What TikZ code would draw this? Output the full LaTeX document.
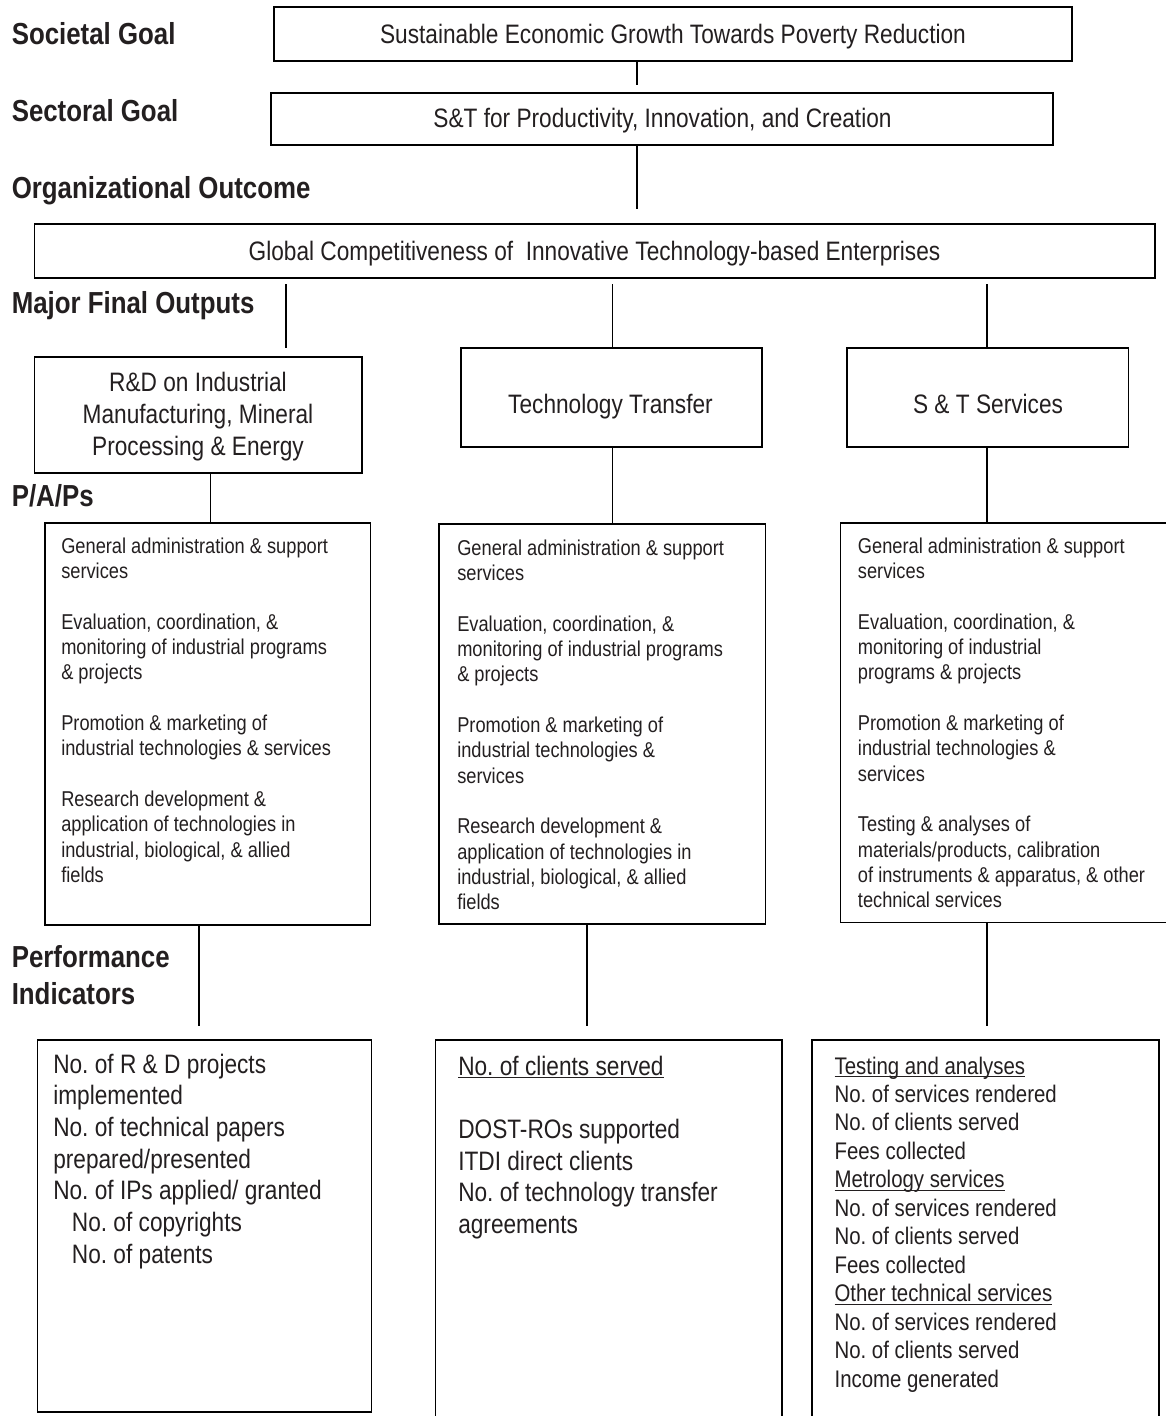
\documentclass[tikz,border=0pt]{standalone}
\usepackage{fontspec}
\setmainfont[FakeStretch=0.85]{Liberation Sans}
\usetikzlibrary{fit}
\definecolor{ink}{RGB}{35,31,32}
\frenchspacing
\newcommand{\myul}[1]{\setbox0\hbox{#1}\rlap{\rule[-2.6pt]{\wd0}{0.8pt}}\box0}
\tikzset{
  box/.style={draw=black, line width=1.1pt, inner sep=0pt, outer sep=0pt, rectangle},
  conn/.style={draw=black, line width=1.1pt},
  lab/.style={anchor=base west, inner sep=0pt, text=ink, font=\bfseries\fontsize{22.8}{27.8}\selectfont},
  body/.style={anchor=base, inner sep=0pt, text=ink, font=\fontsize{20}{23.8}\selectfont},
  bodyl/.style={anchor=base west, inner sep=0pt, text=ink, font=\fontsize{20}{23.8}\selectfont},
  pap/.style={anchor=base west, inner sep=0pt, text=ink, font=\fontsize{16.1}{19}\selectfont},
  pir/.style={anchor=base west, inner sep=0pt, text=ink, font=\fontsize{18}{21.35}\selectfont},
}
\begin{document}
\frenchspacing
\begin{tikzpicture}[x=0.75pt, y=-0.75pt]
\useasboundingbox[fill=white] (0,0) rectangle (1165,1416);

% ---- level labels ----
\node[lab] (lsoc) at (11.5,45) {Societal Goal};
\node[lab] (lsec) at (11.5,122) {Sectoral Goal};
\node[lab] (lorg) at (11.5,198) {Organizational Outcome};
\node[lab] (lmfo) at (11.5,313) {Major Final Outputs};
\node[lab] (lpap) at (11.5,506) {P/A/Ps};
\node[lab] (lpi) at (11.5,967) {\begin{tabular}[t]{@{}l@{}}Performance\\Indicators\end{tabular}};

% ---- boxes ----
\node[box, fit={(274,7) (1072,61)}] (b1) {};
\node[box, fit={(271,93) (1053,145)}] (b2) {};
\node[box, fit={(34.4,224) (1155,278)}] (gl) {};
\node[box, fit={(34.4,357) (362,473)}] (m1) {};
\node[box, fit={(461,348) (762,447)}] (m2) {};
\node[box, fit={(847,348) (1128.5,447)}] (m3) {};
\node[box, fit={(45,523) (370.5,925)}] (p1) {};
\node[box, fit={(439,524) (765.7,924)}] (p2) {};
\node[box, fit={(840.7,523) (1185,922.7)}] (p3) {};
\node[box, fit={(37.7,1040) (371.7,1412)}] (i1) {};
\node[box, fit={(435.7,1040) (782,1440)}] (i2) {};
\node[box, fit={(812,1040) (1159,1440)}] (i3) {};

% ---- box texts ----
\node[body] (t1) at (673,43.3) {Sustainable Economic Growth Towards Poverty Reduction};
\node[body] (t2) at (662.5,128) {S\&T for Productivity, Innovation, and Creation};
\node[body] (t3) at (594.5,260) {Global Competitiveness of\ \ Innovative Technology-based Enterprises};
\node[body] (tm1) at (198,391.7) {\begin{tabular}[t]{@{}c@{}}R\&D on Industrial\\Manufacturing, Mineral\\Processing \& Energy\end{tabular}};
\node[body] (tm2) at (610.5,413) {Technology Transfer};
\node[body] (tm3) at (988,413) {S \& T Services};

\node[pap] (tp1) at (61,553) {\begin{tabular}[t]{@{}l@{}}
General administration \& support\\
services\\[19pt]
Evaluation, coordination, \&\\
monitoring of industrial programs\\
\& projects\\[19pt]
Promotion \& marketing of\\
industrial technologies \& services\\[19pt]
Research development \&\\
application of technologies in\\
industrial, biological, \& allied\\
fields\end{tabular}};

\node[pap] (tp2) at (457,555) {\begin{tabular}[t]{@{}l@{}}
General administration \& support\\
services\\[19pt]
Evaluation, coordination, \&\\
monitoring of industrial programs\\
\& projects\\[19pt]
Promotion \& marketing of\\
industrial technologies \&\\
services\\[19pt]
Research development \&\\
application of technologies in\\
industrial, biological, \& allied\\
fields\end{tabular}};

\node[pap] (tp3) at (857.7,553) {\begin{tabular}[t]{@{}l@{}}
General administration \& support\\
services\\[19pt]
Evaluation, coordination, \&\\
monitoring of industrial\\
programs \& projects\\[19pt]
Promotion \& marketing of\\
industrial technologies \&\\
services\\[19pt]
Testing \& analyses of\\
materials/products, calibration\\
of instruments \& apparatus, \& other\\
technical services\end{tabular}};

\node[bodyl] (ti1) at (53,1073) {\begin{tabular}[t]{@{}l@{}}
No. of R \& D projects\\
implemented\\
No. of technical papers\\
prepared/presented\\
No. of IPs applied/ granted\\
\hspace{14pt}No. of copyrights\\
\hspace{14pt}No. of patents\end{tabular}};

\node[bodyl] (ti2) at (458,1075) {\begin{tabular}[t]{@{}l@{}}
\myul{No. of clients served}\\[23.8pt]
DOST-ROs supported\\
ITDI direct clients\\
No. of technology transfer\\
agreements\end{tabular}};

\node[pir] (ti3) at (834.3,1074) {\begin{tabular}[t]{@{}l@{}}
\myul{Testing and analyses}\\
No. of services rendered\\
No. of clients served\\
Fees collected\\
\myul{Metrology services}\\
No. of services rendered\\
No. of clients served\\
Fees collected\\
\myul{Other technical services}\\
No. of services rendered\\
No. of clients served\\
Income generated\end{tabular}};

% ---- connector free ends ----
\coordinate (ka) at (637,85);
\coordinate (kb) at (637,209);
\coordinate (kc1) at (286,284);
\coordinate (kc2) at (286,348);
\coordinate (kd) at (612.5,284);
\coordinate (ke) at (987,284);
\coordinate (kf) at (210.5,0);
\coordinate (kg) at (612.5,0);
\coordinate (kh) at (987,0);
\coordinate (ki) at (199,1026);
\coordinate (kj) at (587,1026);
\coordinate (kk) at (987,1026);

% ---- connectors ----
\draw[conn] (ka |- b1.south) -- (ka);
\draw[conn] (kb |- b2.south) -- (kb);
\draw[conn] (kc1) -- (kc2);
\draw[conn] (kd) -- (kd |- m2.north);
\draw[conn] (ke) -- (ke |- m3.north);
\draw[conn] (kf |- m1.south) -- (kf |- p1.north);
\draw[conn] (kg |- m2.south) -- (kg |- p2.north);
\draw[conn] (kh |- m3.south) -- (kh |- p3.north);
\draw[conn] (ki |- p1.south) -- (ki);
\draw[conn] (kj |- p2.south) -- (kj);
\draw[conn] (kk |- p3.south) -- (kk);
\end{tikzpicture}
\end{document}
